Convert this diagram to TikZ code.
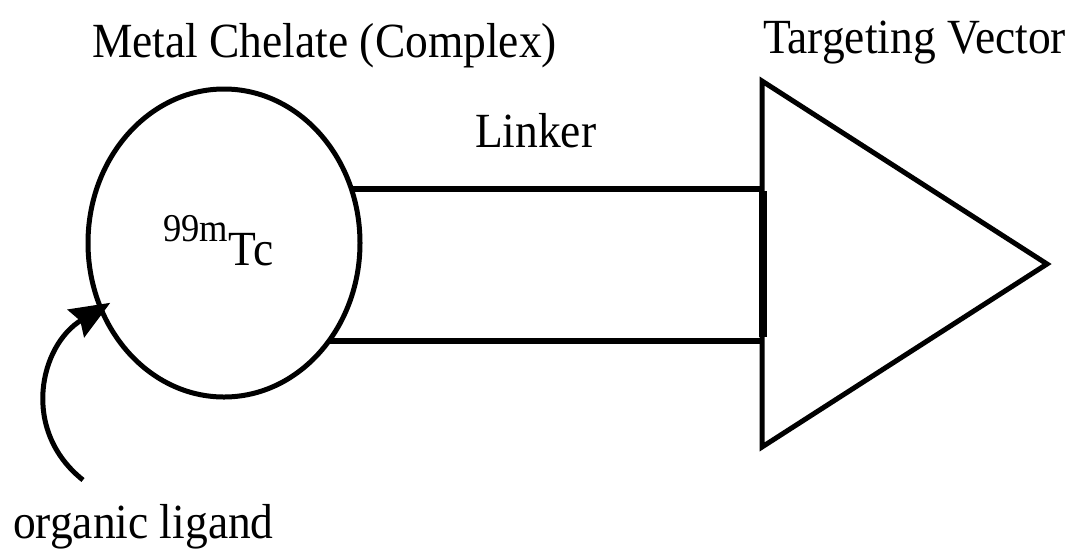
\documentclass[tikz,border=0pt]{standalone}
\usepackage{fontspec}
\setmainfont{Liberation Serif}
\usetikzlibrary{arrows.meta,shapes.geometric}
\begin{document}
\begin{tikzpicture}[x=1pt,y=-1pt,
  lbl/.style={anchor=base west,inner sep=0pt,outer sep=0pt,
    font=\fontsize{45.5}{50}\selectfont},
  chelatebox/.style={draw,ellipse,line width=5pt,minimum width=272pt,
    minimum height=308pt,inner sep=0pt,outer sep=0pt},
  linkerline/.style={line width=6pt},
  vectorline/.style={line width=5pt,line join=miter},
  ligarrow/.style={line width=5pt,
    -{Stealth[length=40pt,width=32pt,inset=5pt]},shorten >=-11pt}]
\useasboundingbox (0,0) rectangle (1078,550);

% metal chelate
\node[chelatebox] (chelate) at (224,243) {};
\node[lbl] (tc) at (163,265)
  {\scalebox{1}[1.08]{\raisebox{22pt}{\fontsize{36.5}{40}\selectfont 99m}\kern1pt Tc}};

% targeting vector
\coordinate (tA) at (762,81);
\coordinate (tB) at (1047,264);
\coordinate (tC) at (762,447);
\draw[vectorline] (tA) -- (tB) -- (tC) -- cycle;

% linker
\coordinate (ltop) at (763,188);
\coordinate (lbot) at (763,340);
\draw[linkerline] (chelate.23.4) -- (chelate.23.4 -| ltop);
\draw[linkerline] (chelate.317.5) -- (chelate.317.5 -| lbot);
\draw[line width=8pt] ([yshift=-3pt]ltop) -- ([yshift=3pt]lbot);

% ligand arrow
\coordinate (lig) at (83,480);
\draw[ligarrow] (lig) .. controls (20,430) and (40,345) .. (chelate.208);

% labels
\node[lbl] (lchel) at (92,57) {\scalebox{1}[1.08]{Metal Chelate (Complex)}};
\node[lbl] (lvec) at (763,53) {\scalebox{1}[1.08]{Targeting Vector}};
\node[lbl] (llink) at (475,147) {\scalebox{1}[1.08]{Linker}};
\node[lbl] (llig) at (13,538) {\scalebox{1}[1.08]{organic ligand}};
\end{tikzpicture}
\end{document}
